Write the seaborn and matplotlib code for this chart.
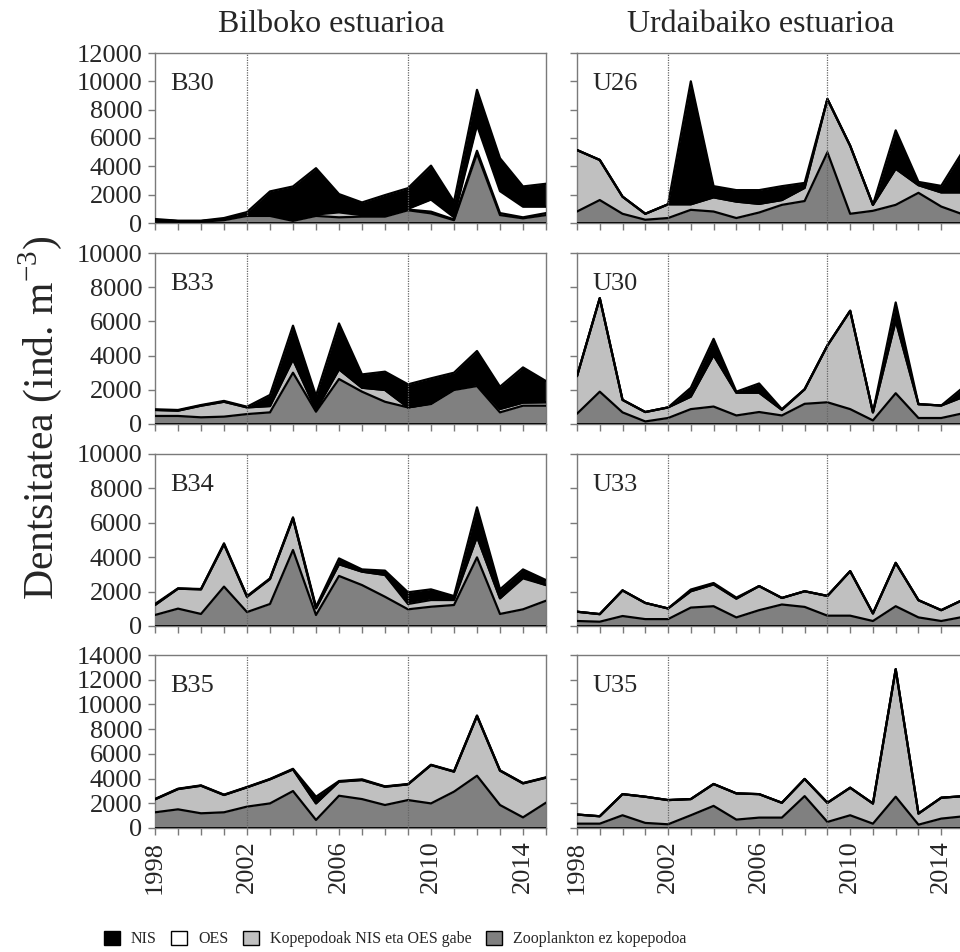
import numpy as np
import matplotlib
matplotlib.use("Agg")
import matplotlib.pyplot as plt
from matplotlib.patches import Patch
import seaborn as sns

# Years sampled
years = list(range(1998, 2016))

# Bilbao estuary stations (ind. m-3), by group
B30_zoo = [160, 100, 100, 200, 500, 500, 150, 500, 400, 450, 450, 900, 680, 200, 4900, 560, 330, 560]
B30_kop = [40, 30, 30, 50, 100, 100, 100, 100, 350, 100, 50, 50, 120, 50, 200, 140, 70, 140]
B30_oes = [20, 10, 10, 20, 50, 100, 50, 50, 50, 50, 20, 50, 850, 150, 1800, 1550, 750, 450]
B30_nis = [60, 20, 20, 80, 120, 1530, 2280, 3220, 1240, 850, 1450, 1460, 2400, 1100, 2500, 2320, 1430, 1620]

B33_zoo = [470, 470, 390, 430, 580, 680, 3000, 720, 2630, 1890, 1300, 970, 1170, 1990, 2220, 680, 1070, 1070]
B33_kop = [350, 310, 680, 870, 390, 370, 780, 100, 570, 230, 690, 0, 30, 40, 120, 200, 180, 200]
B33_oes = [0] * 18
B33_nis = [40, 40, 40, 50, 40, 650, 1970, 830, 2680, 780, 1070, 1350, 1470, 970, 1930, 1300, 2060, 1240]

B34_zoo = [640, 1010, 700, 2290, 810, 1280, 4420, 640, 2910, 2380, 1700, 970, 1120, 1220, 3990, 700, 970, 1470]
B34_kop = [580, 1160, 1430, 2460, 890, 1450, 1840, 390, 680, 780, 1270, 310, 390, 290, 1200, 910, 1800, 910]
B34_oes = [0, 0, 0, 0, 0, 0, 0, 0, 0, 0, 0, 100, 100, 60, 0, 0, 60, 0]
B34_nis = [60, 20, 20, 60, 40, 40, 60, 90, 340, 130, 250, 580, 520, 170, 1710, 520, 460, 290]

B35_zoo = [1270, 1510, 1190, 1270, 1730, 1990, 2990, 650, 2610, 2340, 1860, 2260, 1990, 2940, 4230, 1860, 860, 2050]
B35_kop = [1050, 1640, 2230, 1400, 1560, 1950, 1750, 1340, 1140, 1540, 1480, 1270, 3100, 1620, 4830, 2780, 2750, 2020]
B35_oes = [0] * 18
B35_nis = [30, 30, 30, 30, 30, 30, 50, 540, 50, 60, 30, 30, 30, 30, 50, 30, 30, 30]

# Urdaibai estuary stations (ind. m-3), by group
U26_zoo = [810, 1620, 650, 230, 350, 930, 810, 350, 740, 1280, 1550, 4990, 650, 860, 1280, 2130, 1160, 580]
U26_kop = [4340, 2830, 1210, 420, 970, 390, 1000, 1160, 610, 340, 930, 3760, 4800, 420, 2550, 540, 1000, 1580]
U26_oes = [0] * 18
U26_nis = [0, 0, 0, 0, 0, 8680, 790, 810, 970, 980, 350, 0, 0, 0, 2710, 230, 460, 3040]

U30_zoo = [600, 1890, 680, 150, 350, 870, 1020, 500, 700, 500, 1180, 1270, 870, 210, 1800, 350, 350, 640]
U30_kop = [2200, 5470, 730, 550, 620, 730, 3000, 1330, 1130, 330, 850, 3320, 5750, 470, 4240, 810, 730, 960]
U30_oes = [0] * 18
U30_nis = [0, 0, 0, 0, 0, 520, 960, 60, 540, 40, 0, 0, 0, 0, 1070, 0, 0, 580]

U33_zoo = [290, 250, 580, 400, 400, 1070, 1150, 500, 920, 1250, 1110, 600, 600, 290, 1150, 500, 290, 540]
U33_kop = [540, 440, 1490, 940, 620, 950, 1270, 1090, 1400, 380, 910, 1150, 2590, 440, 2520, 1000, 630, 1010]
U33_oes = [0] * 18
U33_nis = [0, 0, 0, 0, 0, 100, 80, 60, 0, 0, 0, 0, 0, 0, 0, 0, 0, 0]

U35_zoo = [350, 350, 1030, 410, 300, 1030, 1790, 680, 840, 840, 2580, 490, 1030, 350, 2530, 270, 760, 950]
U35_kop = [740, 600, 1710, 2120, 1960, 1310, 1770, 2120, 1900, 1200, 1390, 1550, 2230, 1630, 10320, 900, 1690, 1630]
U35_oes = [0] * 18
U35_nis = [0] * 18

column_titles = ["Bilboko estuarioa", "Urdaibaiko estuarioa"]
legend_labels = ["NIS", "OES", "Kopepodoak NIS eta OES gabe", "Zooplankton ez kopepodoa"]
year_ticks = [1998, 2002, 2006, 2010, 2014]
period_marks = [2002, 2009]

panels = [
    [("B30", B30_zoo, B30_kop, B30_oes, B30_nis, 12000), ("U26", U26_zoo, U26_kop, U26_oes, U26_nis, 12000)],
    [("B33", B33_zoo, B33_kop, B33_oes, B33_nis, 10000), ("U30", U30_zoo, U30_kop, U30_oes, U30_nis, 10000)],
    [("B34", B34_zoo, B34_kop, B34_oes, B34_nis, 10000), ("U33", U33_zoo, U33_kop, U33_oes, U33_nis, 10000)],
    [("B35", B35_zoo, B35_kop, B35_oes, B35_nis, 14000), ("U35", U35_zoo, U35_kop, U35_oes, U35_nis, 14000)],
]

fill_colors = ["#808080", "#c0c0c0", "#ffffff", "#000000"]

sns.set_style("white")
plt.rcParams["font.family"] = ["Liberation Serif", "DejaVu Serif"]
plt.rcParams["mathtext.fontset"] = "custom"
plt.rcParams["mathtext.rm"] = "Liberation Serif"

W, H = 960, 952
fig = plt.figure(figsize=(W / 100, H / 100), dpi=100)

col_x = [(155, 546), (577, 964)]
row_y = [(53, 223), (253, 424), (454, 626), (655, 828)]

tick_fs = 19
spine_col = "#7a7a7a"

for r, row in enumerate(panels):
    for c, (name, zoo, kop, oes, nis, ymax) in enumerate(row):
        x0, x1 = col_x[c]
        yt, yb = row_y[r]
        ax = fig.add_axes([x0 / W, 1 - yb / H, (x1 - x0) / W, (yb - yt) / H])
        yrs = np.array(years)
        layers = [np.array(zoo), np.array(kop), np.array(oes), np.array(nis)]
        base = np.zeros(len(yrs))
        for vals, col in zip(layers, fill_colors):
            top = base + vals
            ax.fill_between(yrs, base, top, color=col, lw=0, zorder=2)
            base = top
        # boundaries of the stacked groups
        base = np.zeros(len(yrs))
        for vals in layers:
            base = base + vals
            sns.lineplot(x=yrs, y=base, ax=ax, color="black", lw=1.6, zorder=3, legend=False)
        ax.axhline(0, color="black", lw=2, zorder=3)
        for yr in period_marks:
            ax.axvline(yr, color="#666666", lw=0.9, ls=(0, (1, 1)), zorder=4)

        ax.set_xlim(1998, 2015)
        ax.set_ylim(0, ymax)
        ax.set_yticks(np.arange(0, ymax + 1, 2000))
        ax.set_xticks(years)
        ax.set_xlabel("")
        ax.set_ylabel("")
        ax.tick_params(axis="both", direction="out", length=5, width=1, color=spine_col,
                       labelsize=tick_fs, pad=4, left=True, bottom=True)
        if c == 0:
            ax.set_yticklabels([str(v) for v in range(0, ymax + 1, 2000)])
        else:
            ax.set_yticklabels([])
        if r == len(panels) - 1:
            ax.set_xticklabels([str(y) if y in year_ticks else "" for y in years], rotation=90)
        else:
            ax.set_xticklabels([])
        for sp in ax.spines.values():
            sp.set_visible(True)
            sp.set_color(spine_col)
            sp.set_linewidth(1)
        ax.text(0.04, 0.885, name, transform=ax.transAxes, fontsize=19, va="top", ha="left", zorder=6)

fig.text(331 / W, 1 - 25 / H, column_titles[0], fontsize=23, ha="center", va="center")
fig.text(761 / W, 1 - 25 / H, column_titles[1], fontsize=23, ha="center", va="center")
fig.text(40 / W, 1 - 418 / H, "Dentsitatea (ind. m$^{-3}$)", fontsize=30, rotation=90,
         ha="center", va="center")

handles = [Patch(facecolor=fc, edgecolor="black", lw=1) for fc in fill_colors[::-1]]
fig.legend(handles, legend_labels, loc="center", bbox_to_anchor=(395 / W, 1 - 939 / H),
           ncol=4, frameon=False, fontsize=11.5, handlelength=1.0, handleheight=1.0,
           handletextpad=0.7, columnspacing=0.9, borderaxespad=0)

fig.savefig("out.png", dpi=100)
